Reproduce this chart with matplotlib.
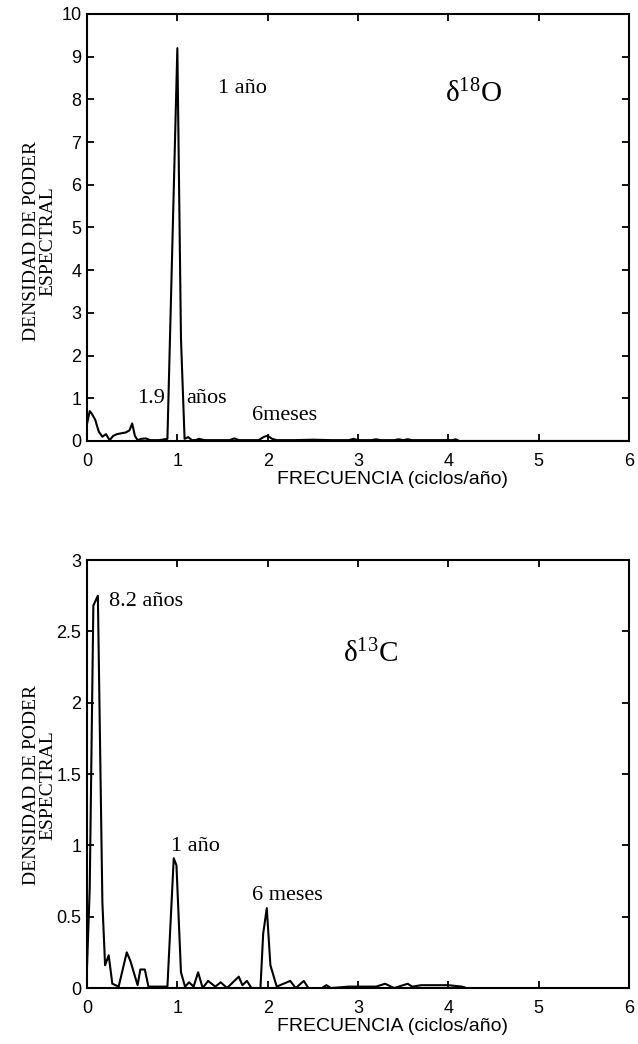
import numpy as np
import matplotlib
matplotlib.use('Agg')
import matplotlib.pyplot as plt

# espectro delta 18O
freq_o = [0, 0.03, 0.05, 0.09, 0.13, 0.17, 0.21, 0.25, 0.29, 0.33, 0.38, 0.43, 0.47, 0.5,
          0.53, 0.56, 0.6, 0.65, 0.7, 0.75, 0.8, 0.89, 1.0, 1.04, 1.08, 1.12, 1.16, 1.2,
          1.24, 1.3, 1.45, 1.58, 1.63, 1.68, 1.9, 1.96, 2.0, 2.05, 2.1, 2.3, 2.5, 2.7,
          2.9, 2.95, 3.0, 3.15, 3.2, 3.25, 3.4, 3.45, 3.5, 3.55, 3.6, 3.8, 4.05, 4.08,
          4.12, 6.0]
dsp_o = [0.4, 0.7, 0.65, 0.5, 0.22, 0.1, 0.16, 0.02, 0.12, 0.16, 0.18, 0.2, 0.25, 0.41,
         0.12, 0.02, 0.05, 0.06, 0.02, 0.02, 0.02, 0.05, 9.2, 2.4, 0.05, 0.09, 0.02, 0.02,
         0.05, 0.02, 0.02, 0.02, 0.06, 0.02, 0.02, 0.1, 0.12, 0.05, 0.02, 0.02, 0.03, 0.02,
         0.02, 0.05, 0.02, 0.02, 0.04, 0.02, 0.02, 0.04, 0.02, 0.04, 0.02, 0.02, 0.02, 0.04,
         0.0, 0.0]

# espectro delta 13C
freq_c = [0, 0.03, 0.07, 0.12, 0.17, 0.2, 0.24, 0.28, 0.35, 0.44, 0.48, 0.56, 0.59,
          0.64, 0.68, 0.89, 0.96, 0.99, 1.04, 1.085, 1.13, 1.18, 1.23, 1.28, 1.34,
          1.42, 1.48, 1.55, 1.68, 1.72, 1.77, 1.82, 1.92, 1.95, 1.99, 2.03, 2.1,
          2.25, 2.31, 2.4, 2.45, 2.6, 2.65, 2.7, 2.9, 3.2, 3.3, 3.4, 3.5, 3.55, 3.6,
          3.7, 4.0, 4.15, 4.2, 6.0]
dsp_c = [0.15, 0.7, 2.68, 2.75, 0.6, 0.16, 0.23, 0.03, 0.01, 0.25, 0.19, 0.02, 0.13,
         0.13, 0.01, 0.01, 0.91, 0.86, 0.11, 0.01, 0.04, 0.01, 0.11, 0.0, 0.05,
         0.01, 0.04, 0.0, 0.08, 0.02, 0.05, 0.0, 0.0, 0.38, 0.56, 0.16, 0.01,
         0.05, 0.0, 0.05, 0.0, 0.0, 0.02, 0.0, 0.01, 0.01, 0.03, 0.0, 0.02, 0.03, 0.01,
         0.02, 0.02, 0.01, 0.0, 0.0]

yticks_o = [0, 1, 2, 3, 4, 5, 6, 7, 8, 9, 10]
yticks_c = [0, 0.5, 1, 1.5, 2, 2.5, 3]
ytick_labels_c = ['0', '0.5', '1', '1.5', '2', '2.5', '3']
xticks = [0, 1, 2, 3, 4, 5, 6]

serif = 'Liberation Serif'
sans = 'Liberation Sans'

fig = plt.figure(figsize=(6.38, 10.44), dpi=100)
ax1 = fig.add_axes([0.1364, 0.5776, 0.8495, 0.409])
ax2 = fig.add_axes([0.1364, 0.0536, 0.8495, 0.410])


def estilo(ax, yticks, ylabels, ylim):
    ax.set_xlim(0, 6)
    ax.set_ylim(*ylim)
    ax.set_xticks(xticks)
    ax.set_xticklabels([str(x) for x in xticks], family=sans, fontsize=13)
    ax.set_yticks(yticks)
    ax.set_yticklabels(ylabels, family=sans, fontsize=13)
    ax.tick_params(direction='in', length=5, width=1.3, top=True, right=True)
    ax.tick_params(axis='x', pad=8.5)
    ax.tick_params(axis='y', pad=4)
    for s in ax.spines.values():
        s.set_linewidth(1.5)
    ax.set_xlabel('FRECUENCIA (ciclos/año)', family=sans, fontsize=14, labelpad=0)
    ax.xaxis.set_label_coords(0.563, -0.071)
    ax.xaxis.label.set_va('top')


ax1.plot(freq_o, dsp_o, color='black', lw=1.5)
estilo(ax1, yticks_o, [str(v) for v in yticks_o], (0, 10))
ax2.plot(freq_c, dsp_c, color='black', lw=1.5)
estilo(ax2, yticks_c, ytick_labels_c, (0, 3))

for ycen in [0.769, 0.248]:
    fig.text(0.0625, ycen, 'DENSIDAD DE PODER\nESPECTRAL', rotation=90, ha='center',
             va='center', family=serif, fontsize=14, linespacing=1.0)

# anotaciones
ax1.text(1.45, 8.15, '1 año', family=serif, fontsize=16)
ax1.text(3.96, 7.94, r'$\mathregular{\delta^{18}O}$', family=serif, fontsize=21)
ax1.text(0.55, 0.9, '1.9', family=serif, fontsize=16)
ax1.text(1.1, 0.9, 'años', family=serif, fontsize=16)
ax1.text(1.83, 0.5, '6meses', family=serif, fontsize=16)

ax2.text(0.24, 2.68, '8.2 años', family=serif, fontsize=16)
ax2.text(2.83, 2.28, r'$\mathregular{\delta^{13}C}$', family=serif, fontsize=21)
ax2.text(0.93, 0.96, '1 año', family=serif, fontsize=16)
ax2.text(1.83, 0.62, '6 meses', family=serif, fontsize=16)

fig.savefig('out.png', dpi=100)
